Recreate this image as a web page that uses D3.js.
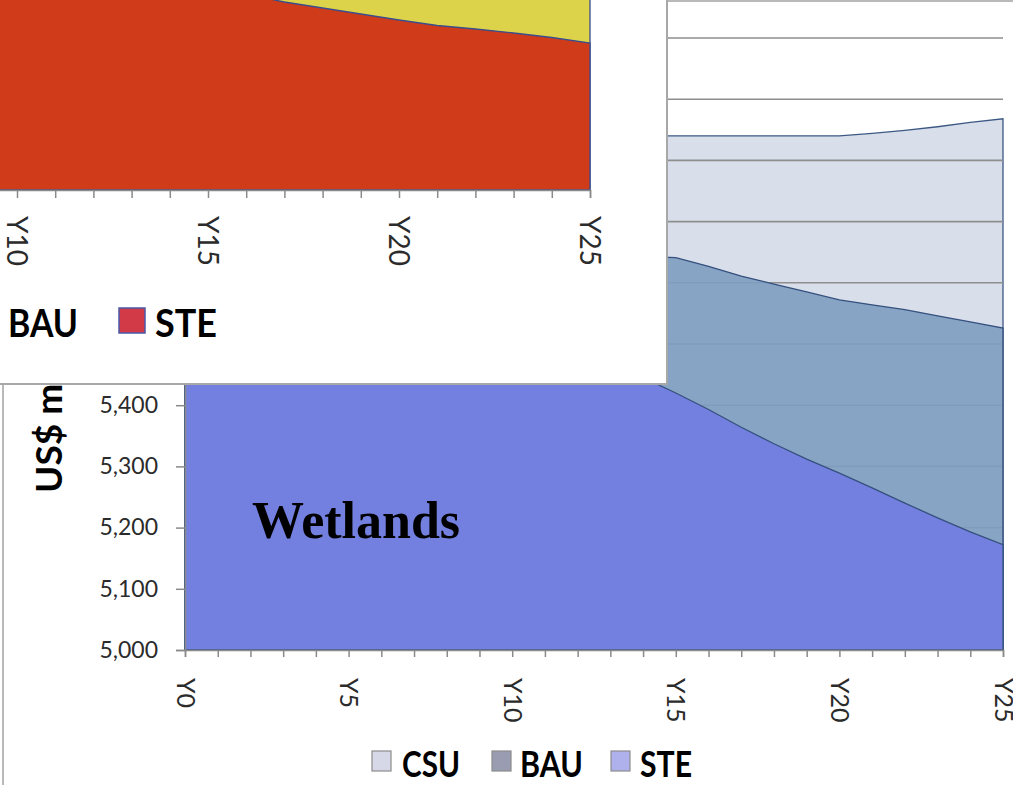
<!DOCTYPE html>
<html><head><meta charset="utf-8">
<script src="https://cdn.jsdelivr.net/npm/d3@7"></script>
<style>html,body{margin:0;padding:0;background:#fff;overflow:hidden}svg{display:block}</style>
</head><body>
<svg id="c" width="1013" height="785"></svg>
<script>
// ---------- back chart (Wetlands) ----------
const years = ["Y0","Y1","Y2","Y3","Y4","Y5","Y6","Y7","Y8","Y9","Y10","Y11","Y12","Y13","Y14","Y15","Y16","Y17","Y18","Y19","Y20","Y21","Y22","Y23","Y24","Y25"];
const csu = [5840,5840,5840,5840,5840,5840,5840,5840,5840,5840,5840,5840,5840,5840,5840,5840,5840,5840,5840,5840,5840,5844,5849,5855,5862,5868];
const bau = [5652,5652,5651,5651,5650,5650,5649,5649,5648,5648,5647,5646,5645,5644,5643,5641,5627,5611,5598,5585,5572,5564,5556,5546,5536,5526];
const ste = [5468,5467,5467,5466,5466,5465,5464,5463,5462,5461,5459,5456,5452,5448,5445,5420,5393,5364,5337,5312,5289,5265,5240,5216,5193,5172];
const yTicks = [5000,5100,5200,5300,5400,5500,5600,5700,5800,5900,6000];
const yTickLabelsShown = [5000,5100,5200,5300,5400];   // the others sit under the inset
const xTickLabels = ["Y0","Y5","Y10","Y15","Y20","Y25"];
const legendLabels = ["CSU","BAU","STE"];
const yTitle = "US$ millions";
const chartTitle = "Wetlands";

// ---------- inset chart (partly visible) ----------
const insetYears = years;
const insetBau = [1060,1055,1050,1045,1040,1035,1030,1025,1020,1012,1005,995,985,975,965,955,945,935,925,915,905,895,885,875,865,855];
const insetSte = [1010,1005,1000,995,990,980,970,960,950,935,920,900,880,860,840,820,784,752,728,704,680,658,644,628,610,588];
const insetXTickLabels = ["Y10","Y15","Y20","Y25"];
const insetLegendLabels = ["BAU","STE"];

const svg = d3.select("#c");
const FONT = "Lato, 'Open Sans', sans-serif";

// back frame
svg.append("rect").attr("x",3).attr("y",1).attr("width",1040).attr("height",820)
  .attr("fill","#fff").attr("stroke","#a3a3a3").attr("stroke-width",1.5);

const x = d3.scalePoint().domain(years).range([185,1003]);
const y = d3.scaleLinear().domain([5000,6000]).range([650,38]);

const area = vals => d3.area().x((d,i)=>x(years[i])).y0(y(5000)).y1(d=>y(d))(vals);

svg.append("path").attr("d",area(csu)).attr("fill","#d8deea").attr("stroke","#3c5884").attr("stroke-width",1.3);
const grid = svg.append("g");
yTicks.filter(t=>t>5000).forEach(t=>{
  grid.append("line").attr("x1",185).attr("x2",1003).attr("y1",y(t)).attr("y2",y(t))
    .attr("stroke","#8e8e8e").attr("stroke-width",1.6);
});
svg.append("path").attr("d",area(bau)).attr("fill","#809dc0").attr("fill-opacity",0.9).attr("stroke","#34507e").attr("stroke-width",1.3);
svg.append("path").attr("d",area(ste)).attr("fill","#7480df").attr("stroke","#34507e").attr("stroke-width",1.3);

// axes
const yAxis = svg.append("g").attr("transform","translate(185,0)")
  .call(d3.axisLeft(y).tickValues(yTicks)
    .tickFormat(d=>yTickLabelsShown.includes(d)?d3.format(",")(d):"").tickSize(9).tickPadding(18));
yAxis.selectAll("text").attr("font-family",FONT).attr("font-size",23).attr("fill","#2b2b2b");
yAxis.selectAll("line,path").attr("stroke","#8a8a8a").attr("stroke-width",1.5);

const xAxis = svg.append("g").attr("transform","translate(0,650)")
  .call(d3.axisBottom(x).tickSize(7).tickFormat(d=>xTickLabels.includes(d)?d:""));
xAxis.selectAll("line,path").attr("stroke","#8a8a8a").attr("stroke-width",1.5);
xAxis.selectAll("text").attr("font-family",FONT).attr("font-size",25).attr("fill","#2b2b2b")
  .attr("text-anchor","start").attr("transform","rotate(90)").attr("x",28).attr("y",0).attr("dy","0.36em");

// title in plot
svg.append("text").attr("x",252).attr("y",538).text(chartTitle)
  .attr("font-family","'Liberation Serif','Times New Roman',serif").attr("font-weight","bold").attr("font-size",52).attr("fill","#000");

// y title
svg.append("text").attr("transform","translate(62,493) rotate(-90)").text(yTitle)
  .attr("font-family",FONT).attr("font-weight","bold").attr("font-size",37).attr("fill","#000");

// legend
const legPos = [{sx:372,tx:402,w:58},{sx:492,tx:520,w:63},{sx:611,tx:640,w:52}];
const legFill = ["#d6d8e8","#9a9db2","#afb1ec"];
const leg = svg.append("g");
legendLabels.forEach((l,i)=>{
  leg.append("rect").attr("x",legPos[i].sx).attr("y",751).attr("width",19).attr("height",20)
    .attr("fill",legFill[i]).attr("stroke","#8c8c8c").attr("stroke-width",1.2);
  leg.append("text").attr("x",legPos[i].tx).attr("y",777).text(l)
    .attr("textLength",legPos[i].w).attr("lengthAdjust","spacingAndGlyphs")
    .attr("font-family",FONT).attr("font-weight","bold").attr("font-size",36).attr("fill","#000");
});

// ---------- inset ----------
const ins = svg.append("g");
ins.append("rect").attr("x",-10).attr("y",-10).attr("width",677).attr("height",394)
  .attr("fill","#fff").attr("stroke","#a8a8a8").attr("stroke-width",2);
const defs = svg.append("defs");
defs.append("clipPath").attr("id","ic").append("rect").attr("x",0).attr("y",0).attr("width",666).attr("height",383);
const ig = ins.append("g").attr("clip-path","url(#ic)");
const xi = d3.scalePoint().domain(insetYears).range([-365,590]);
const yi = d3.scaleLinear().domain([0,1000]).range([190,-60]);
const iarea = vals => d3.area().x((d,i)=>xi(insetYears[i])).y0(yi(0)).y1(d=>yi(d))(vals);
ig.append("path").attr("d",iarea(insetBau)).attr("fill","#dcd34b").attr("stroke","#3b4d8c").attr("stroke-width",1.3);
ig.append("path").attr("d",iarea(insetSte)).attr("fill","#d03b1a").attr("stroke","#3b4d8c").attr("stroke-width",1.3);
const ixAxis = ig.append("g").attr("transform","translate(0,190)")
  .call(d3.axisBottom(xi).tickSize(8).tickFormat(d=>insetXTickLabels.includes(d)?d:""));
ixAxis.selectAll("line,path").attr("stroke","#8a8a8a").attr("stroke-width",1.5);
ixAxis.selectAll("text").attr("font-family",FONT).attr("font-size",28).attr("fill","#2b2b2b")
  .attr("text-anchor","start").attr("transform","rotate(90)").attr("x",26).attr("y",0).attr("dy","0.36em");
// inset legend
ig.append("text").attr("x",8).attr("y",337).text(insetLegendLabels[0])
  .attr("textLength",70).attr("lengthAdjust","spacingAndGlyphs")
  .attr("font-family",FONT).attr("font-weight","bold").attr("font-size",39).attr("fill","#000");
ig.append("rect").attr("x",119).attr("y",308).attr("width",26).attr("height",25)
  .attr("fill","#d23a48").attr("stroke","#4a5aa8").attr("stroke-width",1.5);
ig.append("text").attr("x",155).attr("y",337).text(insetLegendLabels[1])
  .attr("textLength",62).attr("lengthAdjust","spacingAndGlyphs")
  .attr("font-family",FONT).attr("font-weight","bold").attr("font-size",39).attr("fill","#000");
</script>
</body></html>
